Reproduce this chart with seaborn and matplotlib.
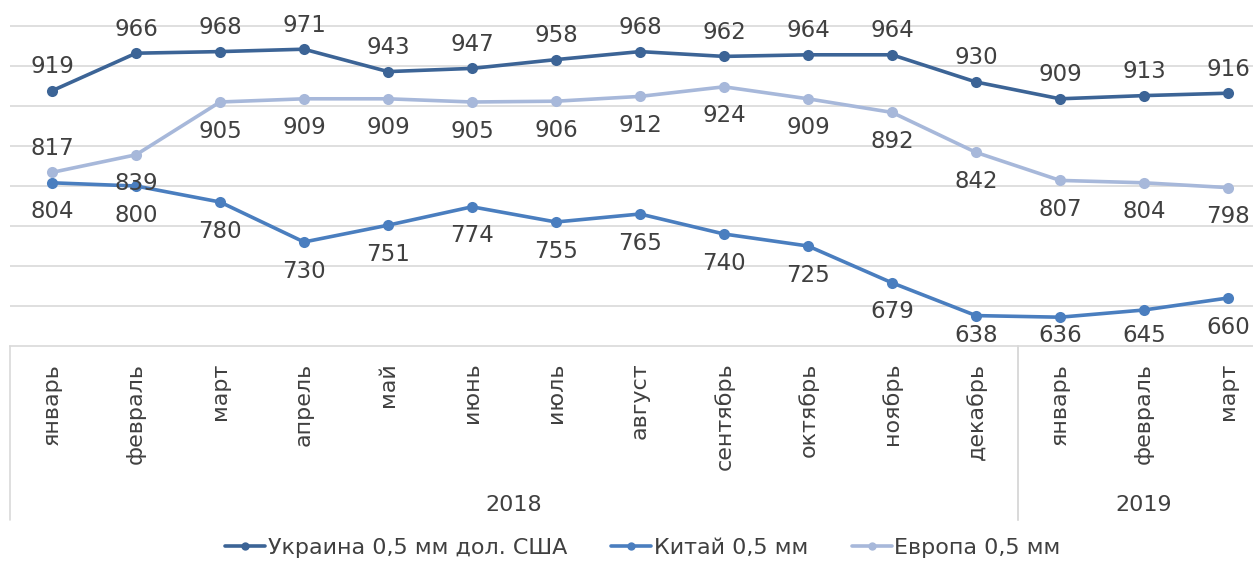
import numpy as np
import pandas as pd
import seaborn as sns
import matplotlib
matplotlib.use("Agg")
import matplotlib.pyplot as plt
import matplotlib.transforms as mtransforms

months = ["январь", "февраль", "март", "апрель", "май", "июнь", "июль", "август",
          "сентябрь", "октябрь", "ноябрь", "декабрь", "январь", "февраль", "март"]
years = ["2018"] * 12 + ["2019"] * 3

ukraine = [919, 966, 968, 971, 943, 947, 958, 968, 962, 964, 964, 930, 909, 913, 916]
china = [804, 800, 780, 730, 751, 774, 755, 765, 740, 725, 679, 638, 636, 645, 660]
europe = [817, 839, 905, 909, 909, 905, 906, 912, 924, 909, 892, 842, 807, 804, 798]

names = ["Украина 0,5 мм дол. США", "Китай 0,5 мм", "Европа 0,5 мм"]
colors = ["#3C6496", "#4A7EBF", "#A7B8DA"]
# data label side for each series; Europe's first label sits above its point
label_side = [
    ["above"] * 15,
    ["below"] * 15,
    ["above"] + ["below"] * 14,
]

sns.set_theme(style="white")
plt.rcParams["font.family"] = ["DejaVu Sans"]
txt = "#404040"

rows = []
for name, vals in zip(names, [ukraine, china, europe]):
    for i, v in enumerate(vals):
        rows.append({"idx": i, "value": v, "series": name})
df = pd.DataFrame(rows)

W, H = 1253, 561
fig = plt.figure(figsize=(W / 100, H / 100), dpi=100)
ax_left, ax_right, ax_bottom = 10, 1270, 346
ax = fig.add_axes([ax_left / W, 1 - ax_bottom / H, (ax_right - ax_left) / W, ax_bottom / H])

for y in range(650, 1001, 50):
    ax.axhline(y, color="#D9D9D9", lw=1.2, zorder=0)

sns.lineplot(data=df, x="idx", y="value", hue="series", palette=colors,
             marker="o", markersize=8, markeredgewidth=0, linewidth=2.6,
             ax=ax, legend=True)

ymin, ymax = 600, 1032.5
unit = (ymax - ymin) / ax_bottom  # data units per pixel
for name, vals, col, sides in zip(names, [ukraine, china, europe], colors, label_side):
    for i, v in enumerate(vals):
        if sides[i] == "above":
            ly = v + 24 * unit
        else:
            # keep labels inside the plot area, like Excel does
            ly = max(v - 29 * unit, ymin + 11 * unit)
        ax.text(i, ly, str(v), ha="center", va="center", fontsize=16.5, color=txt)

ax.set_xlim(-0.5, len(months) - 0.5)
ax.set_ylim(ymin, ymax)
for s in ["top", "right", "left"]:
    ax.spines[s].set_visible(False)
ax.spines["bottom"].set_color("#D9D9D9")
ax.spines["bottom"].set_linewidth(1.2)
ax.set_yticks([])
ax.set_xlabel("")
ax.set_ylabel("")
ax.set_xticks(range(len(months)))
ax.set_xticklabels(months, rotation=90, fontsize=16, color=txt, va="top")
ax.tick_params(axis="x", length=0, pad=12)

# year level of category axis
trans = mtransforms.blended_transform_factory(ax.transData, ax.transAxes)
px = 1 / ax_bottom  # one pixel in axes fraction (vertical)
groups = []
for i, yv in enumerate(years):
    if not groups or groups[-1][0] != yv:
        groups.append([yv, i, i])
    else:
        groups[-1][2] = i
for yv, a, b in groups:
    ax.text((a + b) / 2, -(505 - ax_bottom) * px, yv, transform=trans,
            ha="center", va="center", fontsize=16, color=txt)
    for edge in (a - 0.5, b + 0.5):
        ax.plot([edge, edge], [0, -(520 - ax_bottom) * px], transform=trans,
                color="#D9D9D9", lw=1.2, clip_on=False)

h, l = ax.get_legend_handles_labels()
ax.legend(h, l, loc="center", bbox_to_anchor=(643 / W, 1 - 548 / H),
          bbox_transform=fig.transFigure, ncol=3, frameon=False,
          fontsize=16, handlelength=1.8, handletextpad=0.1, columnspacing=2.0,
          markerscale=0.75, labelcolor=txt)

fig.savefig("out.png", dpi=100)
